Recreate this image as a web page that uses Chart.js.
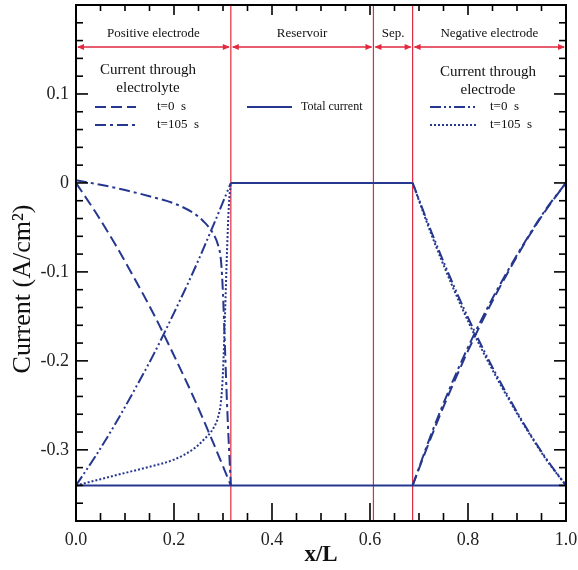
<!DOCTYPE html>
<html>
<head>
<meta charset="utf-8">
<script src="https://cdn.jsdelivr.net/npm/chart.js@4.4.1/dist/chart.umd.min.js"></script>
<style>
  html, body { margin: 0; padding: 0; background: #fff; }
</style>
</head>
<body>
<canvas id="c" width="578" height="570"></canvas>
<script>
// region boundaries along x/L and their names
const regionBounds = [0, 0.316, 0.607, 0.687, 1];
const regionNames = ['Positive electrode', 'Reservoir', 'Sep.', 'Negative electrode'];

// axis ticks
const xTickValues = [0, 0.2, 0.4, 0.6, 0.8, 1.0];
const xTickLabels = ['0.0', '0.2', '0.4', '0.6', '0.8', '1.0'];
const yTickValues = [-0.3, -0.2, -0.1, 0, 0.1];
const yTickLabels = ['-0.3', '-0.2', '-0.1', '0', '0.1'];
const yTitle = 'Current (A/cm²)';

// positive electrode, t=0
const posX0 = [0, 0.04, 0.08, 0.12, 0.16, 0.2, 0.24, 0.28, 0.316];
const posElectrolyte0 = [0, -0.033, -0.069, -0.108, -0.149, -0.194, -0.241, -0.292, -0.34];
const posElectrode0 = [-0.34, -0.307, -0.271, -0.232, -0.191, -0.146, -0.099, -0.048, 0];

// positive electrode, t=105 s
const posX105 = [0, 0.05, 0.1, 0.15, 0.2, 0.24, 0.26, 0.28, 0.29, 0.296, 0.3, 0.304, 0.308, 0.312, 0.316];
const posElectrolyte105 = [0.003, -0.002, -0.008, -0.015, -0.023, -0.034, -0.043, -0.057, -0.07, -0.088, -0.125, -0.185, -0.245, -0.295, -0.34];
const posElectrode105 = [-0.34, -0.333, -0.326, -0.319, -0.311, -0.299, -0.289, -0.276, -0.263, -0.245, -0.212, -0.15, -0.08, -0.025, 0];

// negative electrode
const negX = [0.687, 0.726, 0.765, 0.804, 0.844, 0.883, 0.922, 0.961, 1.0];
const negElectrode0 = [0, -0.056, -0.108, -0.156, -0.201, -0.241, -0.278, -0.311, -0.34];
const negElectrode105 = [0, -0.059, -0.112, -0.16, -0.204, -0.243, -0.279, -0.312, -0.34];
const negElectrolyte0 = [-0.34, -0.284, -0.232, -0.184, -0.139, -0.099, -0.062, -0.029, 0];
const negElectrolyte105 = [-0.34, -0.281, -0.228, -0.18, -0.136, -0.097, -0.061, -0.028, 0];

// total current
const totalX = [0, 1];
const totalY = [-0.34, -0.34];
const middleX = [0.316, 0.687];
const middleY = [0, 0];

const BLUE = '#26378f';
const RED = '#e2293f';
const SERIF = '"Liberation Serif", "Times New Roman", serif';

const dashElectrolyte0 = [11, 5];
const dashElectrolyte105 = [11, 4, 3, 4];
const dashElectrode0 = [11, 3, 2, 3, 2, 3];
const dashElectrode105 = [2, 2];

function pts(xs, ys) {
  return xs.map((x, i) => ({ x: x, y: ys[i] }));
}

function line(label, xs, ys, dash) {
  return {
    label: label,
    data: pts(xs, ys),
    borderColor: BLUE,
    borderWidth: 2,
    borderDash: dash,
    pointRadius: 0,
    fill: false,
    cubicInterpolationMode: 'monotone'
  };
}

// keep the plot box fixed, no extra padding for labels
function fixBox(size, horizontal) {
  return s => {
    if (horizontal) s.height = size; else s.width = size;
    s.paddingLeft = 0; s.paddingRight = 0; s.paddingTop = 0; s.paddingBottom = 0;
  };
}

const frame = {
  id: 'frame',
  beforeDatasetsDraw(chart) {
    const { ctx, chartArea: a, scales: { x } } = chart;
    ctx.save();
    ctx.strokeStyle = RED;
    ctx.lineWidth = 1.2;
    regionBounds.slice(1, -1).forEach(b => {
      const px = x.getPixelForValue(b);
      ctx.beginPath();
      ctx.moveTo(px, a.top);
      ctx.lineTo(px, a.bottom);
      ctx.stroke();
    });
    ctx.restore();
  },
  afterDraw(chart) {
    const { ctx, chartArea: a, scales: { x, y } } = chart;
    ctx.save();

    // inward ticks on all four sides
    ctx.strokeStyle = '#000';
    ctx.lineWidth = 1.6;
    const seg = (x1, y1, x2, y2) => {
      ctx.beginPath(); ctx.moveTo(x1, y1); ctx.lineTo(x2, y2); ctx.stroke();
    };
    for (let i = 0; i <= 20; i++) {
      const px = x.getPixelForValue(i * 0.05);
      const major = i % 4 === 0;
      seg(px, a.bottom, px, a.bottom - (major ? 18 : 8));
      seg(px, a.top, px, a.top + (major ? 10 : 6));
    }
    for (let k = -19; k <= 10; k++) {
      const py = y.getPixelForValue(k * 0.02);
      const major = k % 5 === 0;
      seg(a.left, py, a.left + (major ? 12 : 7), py);
      seg(a.right, py, a.right - (major ? 12 : 7), py);
    }
    ctx.lineWidth = 2;
    ctx.strokeRect(a.left, a.top, a.right - a.left, a.bottom - a.top);

    // region arrows and names
    const ay = a.top + 42;
    ctx.strokeStyle = RED;
    ctx.fillStyle = RED;
    ctx.lineWidth = 1.5;
    for (let i = 0; i < regionNames.length; i++) {
      const p0 = x.getPixelForValue(regionBounds[i]);
      const p1 = x.getPixelForValue(regionBounds[i + 1]);
      seg(p0 + 2, ay, p1 - 2, ay);
      ctx.beginPath();
      ctx.moveTo(p0 + 1, ay); ctx.lineTo(p0 + 8, ay - 3); ctx.lineTo(p0 + 8, ay + 3); ctx.closePath(); ctx.fill();
      ctx.beginPath();
      ctx.moveTo(p1 - 1, ay); ctx.lineTo(p1 - 8, ay - 3); ctx.lineTo(p1 - 8, ay + 3); ctx.closePath(); ctx.fill();
    }
    ctx.fillStyle = '#111';
    ctx.font = '13px ' + SERIF;
    ctx.textAlign = 'center';
    ctx.textBaseline = 'middle';
    for (let i = 0; i < regionNames.length; i++) {
      const mid = x.getPixelForValue((regionBounds[i] + regionBounds[i + 1]) / 2);
      ctx.fillText(regionNames[i], mid, a.top + 29);
    }

    // legends
    const sample = (x1, x2, yy, dash) => {
      ctx.save();
      ctx.strokeStyle = BLUE;
      ctx.lineWidth = 2;
      ctx.setLineDash(dash);
      seg(x1, yy, x2, yy);
      ctx.restore();
    };
    ctx.font = '15px ' + SERIF;
    ctx.fillText('Current through', 148, 70);
    ctx.fillText('electrolyte', 148, 88);
    ctx.fillText('Current through', 488, 72);
    ctx.fillText('electrode', 488, 90);

    ctx.textAlign = 'left';
    ctx.font = '13px ' + SERIF;
    sample(95, 136, 107, dashElectrolyte0);
    ctx.fillText('t=0  s', 157, 107);
    sample(95, 136, 125, dashElectrolyte105);
    ctx.fillText('t=105  s', 157, 125);

    sample(430, 477, 107, dashElectrode0);
    ctx.fillText('t=0  s', 490, 107);
    sample(430, 477, 125, dashElectrode105);
    ctx.fillText('t=105  s', 490, 125);

    sample(247, 292, 107, []);
    ctx.font = '12px ' + SERIF;
    ctx.fillText('Total current', 301, 107);

    // y axis title
    ctx.translate(23, 289);
    ctx.rotate(-Math.PI / 2);
    ctx.textAlign = 'center';
    ctx.font = '26px ' + SERIF;
    ctx.fillText(yTitle, 0, 0);

    ctx.restore();
  }
};

new Chart(document.getElementById('c'), {
  type: 'line',
  data: {
    datasets: [
      line('Total current', totalX, totalY, []),
      line('Total current', middleX, middleY, []),
      line('electrolyte t=0', posX0, posElectrolyte0, dashElectrolyte0),
      line('electrode t=0', posX0, posElectrode0, dashElectrode0),
      line('electrolyte t=105', posX105, posElectrolyte105, dashElectrolyte105),
      line('electrode t=105', posX105, posElectrode105, dashElectrode105),
      line('electrolyte t=0', negX, negElectrolyte0, dashElectrolyte0),
      line('electrolyte t=105', negX, negElectrolyte105, dashElectrolyte105),
      line('electrode t=0', negX, negElectrode0, dashElectrode0),
      line('electrode t=105', negX, negElectrode105, dashElectrode105)
    ]
  },
  options: {
    responsive: false,
    animation: false,
    devicePixelRatio: 1,
    layout: { padding: { top: 5, right: 12, left: 0, bottom: 0 } },
    plugins: { legend: { display: false }, tooltip: { enabled: false } },
    scales: {
      x: {
        type: 'linear', min: 0, max: 1,
        grid: { display: false, drawTicks: false },
        border: { display: false },
        afterBuildTicks: s => { s.ticks = xTickValues.map(v => ({ value: v })); },
        afterFit: fixBox(49, true),
        ticks: {
          padding: 8, color: '#222', maxRotation: 0, autoSkip: false,
          font: { family: SERIF, size: 18 },
          callback: (v, i) => xTickLabels[i]
        },
        title: {
          display: true, text: 'x/L', color: '#111',
          font: { family: SERIF, size: 23, weight: 'bold' },
          padding: { top: 0, bottom: 1 }
        }
      },
      y: {
        type: 'linear', min: -0.38, max: 0.2,
        grid: { display: false, drawTicks: false },
        border: { display: false },
        afterBuildTicks: s => { s.ticks = yTickValues.map(v => ({ value: v })); },
        afterFit: fixBox(76, false),
        ticks: {
          padding: 7, color: '#222', autoSkip: false,
          font: { family: SERIF, size: 18 },
          callback: (v, i) => yTickLabels[i]
        }
      }
    }
  },
  plugins: [frame]
});
</script>
</body>
</html>
